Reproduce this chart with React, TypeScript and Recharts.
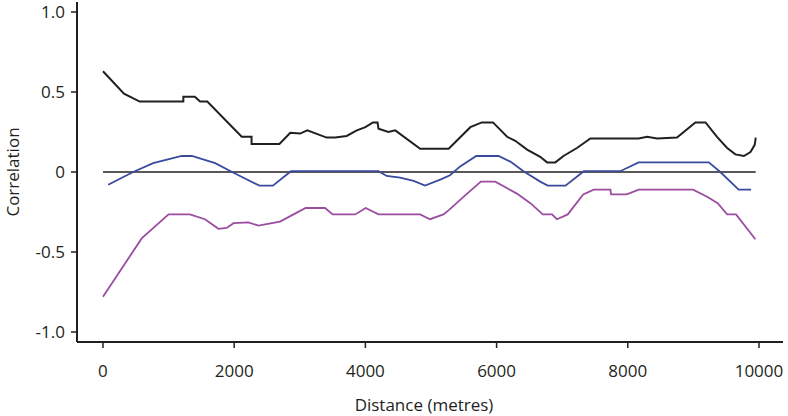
import { LineChart, Line, XAxis, YAxis, ReferenceLine } from "recharts";

// distance (m) / correlation for the three series
const blackDist = [0, 320, 560, 1225, 1225, 1400, 1480, 1590, 2115, 2265, 2265, 2690, 2855, 3005, 3115, 3410, 3540, 3715, 3870, 4000, 4115, 4185, 4200, 4350, 4455, 4835, 5270, 5600, 5775, 5945, 6160, 6285, 6465, 6665, 6770, 6895, 7020, 7225, 7430, 8165, 8295, 8445, 8750, 9030, 9185, 9360, 9515, 9640, 9770, 9870, 9935, 9950];
const blackCorr = [0.63, 0.49, 0.44, 0.44, 0.47, 0.47, 0.44, 0.44, 0.22, 0.22, 0.175, 0.175, 0.245, 0.24, 0.26, 0.215, 0.215, 0.225, 0.26, 0.28, 0.31, 0.31, 0.27, 0.25, 0.26, 0.145, 0.145, 0.28, 0.31, 0.31, 0.22, 0.195, 0.14, 0.095, 0.06, 0.06, 0.1, 0.15, 0.21, 0.21, 0.22, 0.21, 0.215, 0.31, 0.31, 0.22, 0.15, 0.11, 0.1, 0.125, 0.17, 0.215];

const blueDist = [80, 460, 765, 1200, 1355, 1710, 1990, 2385, 2590, 2865, 4200, 4325, 4530, 4735, 4910, 5150, 5290, 5445, 5690, 6030, 6210, 6410, 6665, 6780, 7050, 7330, 7885, 8165, 9235, 9410, 9690, 9880];
const blueCorr = [-0.08, 0, 0.055, 0.1, 0.1, 0.055, -0.005, -0.085, -0.085, 0.005, 0.005, -0.025, -0.035, -0.055, -0.085, -0.046, -0.02, 0.035, 0.1, 0.1, 0.065, 0.005, -0.06, -0.085, -0.085, 0.005, 0.005, 0.06, 0.06, 0, -0.11, -0.11];

const purpleDist = [0, 590, 1000, 1325, 1555, 1760, 1885, 1990, 2215, 2370, 2700, 2905, 3090, 3385, 3500, 3845, 4005, 4200, 4835, 4985, 5190, 5280, 5495, 5760, 5980, 6310, 6515, 6705, 6845, 6920, 7085, 7320, 7480, 7735, 7745, 7985, 8165, 8995, 9210, 9370, 9515, 9650, 9945];
const purpleCorr = [-0.78, -0.415, -0.265, -0.265, -0.295, -0.355, -0.35, -0.32, -0.315, -0.335, -0.31, -0.265, -0.225, -0.225, -0.265, -0.265, -0.225, -0.265, -0.265, -0.295, -0.265, -0.235, -0.155, -0.06, -0.06, -0.135, -0.195, -0.265, -0.265, -0.295, -0.265, -0.14, -0.11, -0.11, -0.14, -0.14, -0.11, -0.11, -0.155, -0.195, -0.265, -0.265, -0.42];

const xTicks = [0, 2000, 4000, 6000, 8000, 10000];
const yTicks = [-1, -0.5, 0, 0.5, 1];
const yTickLabels = ["-1.0", "-0.5", "0", "0.5", "1.0"];
const zeroLineEnd = 9950;

const toRows = (xs: number[], ys: number[]) => xs.map((d, i) => ({ d, r: ys[i] }));

const INK = "#231f20";
const FONT = "'Open Sans', sans-serif";
const tickStyle = { fill: INK, fontSize: 17, fontFamily: FONT };

export default function App() {
  return (
    <div style={{ position: "absolute", left: 0, top: 0, background: "#fff" }}>
      <LineChart width={788} height={416} margin={{ top: 2, right: 5, bottom: 0, left: 0 }}>
        <XAxis type="number" dataKey="d" domain={[-396, 10366]} ticks={xTicks} allowDataOverflow
          height={74} tick={tickStyle} tickSize={6} tickMargin={17}
          axisLine={{ stroke: INK, strokeWidth: 2 }} tickLine={{ stroke: INK, strokeWidth: 1.5 }}
          label={{ value: "Distance (metres)", position: "insideBottom", offset: 5, dx: -6, fill: INK, fontSize: 17, fontFamily: FONT }} />
        <XAxis xAxisId="top" orientation="top" type="number" domain={[0, 1]} height={0} tick={false}
          tickLine={false} axisLine={{ stroke: INK, strokeWidth: 2 }} />
        <YAxis type="number" domain={[-1.0625, 1.0625]} ticks={yTicks} allowDataOverflow width={77}
          tick={tickStyle} tickSize={6} tickMargin={6}
          tickFormatter={(v: number) => yTickLabels[yTicks.indexOf(v)] ?? String(v)}
          axisLine={{ stroke: INK, strokeWidth: 2 }} tickLine={{ stroke: INK, strokeWidth: 1.5 }}
          label={(p: any) => {
            const vb = p.viewBox || { x: 0, y: 2, height: 340 };
            const cx = vb.x + 19;
            const cy = vb.y + vb.height / 2;
            return (
              <text x={cx} y={cy} transform={`rotate(-90 ${cx} ${cy})`} textAnchor="middle"
                fill={INK} fontSize={17} fontFamily={FONT}>Correlation</text>
            );
          }} />
        <YAxis yAxisId="right" orientation="right" type="number" domain={[0, 1]} width={0} tick={false}
          tickLine={false} axisLine={{ stroke: INK, strokeWidth: 2 }} />
        <ReferenceLine segment={[{ x: 0, y: 0 }, { x: zeroLineEnd, y: 0 }]} stroke={INK} strokeWidth={1.3} />
        <Line data={toRows(blackDist, blackCorr)} dataKey="r" type="linear" stroke={INK} strokeWidth={2}
          dot={false} isAnimationActive={false} />
        <Line data={toRows(blueDist, blueCorr)} dataKey="r" type="linear" stroke="#3a4a9c" strokeWidth={1.8}
          dot={false} isAnimationActive={false} />
        <Line data={toRows(purpleDist, purpleCorr)} dataKey="r" type="linear" stroke="#9b4d9f" strokeWidth={1.8}
          dot={false} isAnimationActive={false} />
      </LineChart>
    </div>
  );
}
